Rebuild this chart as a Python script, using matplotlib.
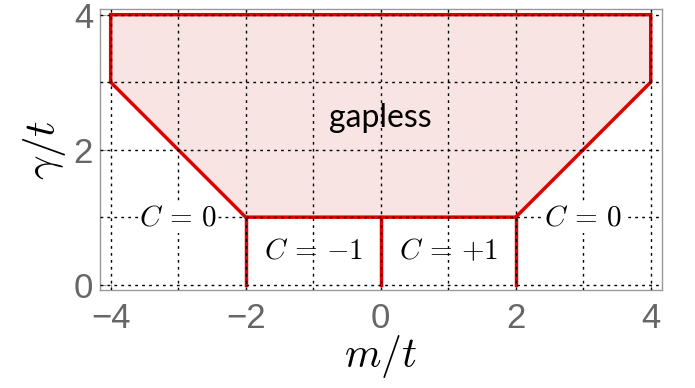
import matplotlib
matplotlib.use("Agg")
import matplotlib.pyplot as plt
from matplotlib.patches import Polygon

plt.rcParams['mathtext.fontset'] = 'cm'

# Data
gapless_m = [-4, 4, 4, 2, -2, -4]
gapless_g = [4, 4, 3, 1, 1, 3]
boundary_m = [-2, 0, 2]
boundary_g_top = 1
xticks = [-4, -2, 0, 2, 4]
yticks = [0, 2, 4]
labels = [(-3, 1, r'$C\,=\,0$'), (3, 1, r'$C\,=\,0$'),
          (-1, 0.5, r'$C\,=\,{-}1$'), (1, 0.5, r'$C\,=\,{+}1$')]

fig = plt.figure(figsize=(6.95, 3.88), dpi=100)
ax = fig.add_axes([100/695, 1-290/388, 562/695, 281/388])
ax.set_xlim(-4.158, 4.167)
ax.set_ylim(-0.079, 4.084)

red = '#dd0000'
poly = Polygon(list(zip(gapless_m, gapless_g)), closed=True, facecolor='#f9e4e4',
               edgecolor=red, lw=2.5, zorder=2)
ax.add_patch(poly)
for m in boundary_m:
    ax.plot([m, m], [0, boundary_g_top], color=red, lw=2.5, zorder=2)

# grid
for v in range(-4, 5):
    ax.axvline(v, color='black', ls=(0, (2, 3)), lw=1, zorder=3)
for v in range(0, 5):
    ax.axhline(v, color='black', ls=(0, (2, 3)), lw=1, zorder=3)

ax.text(0, 2.47, 'gapless', fontsize=23, family='Lato', ha='center', va='center', zorder=5)
for x, y, s in labels:
    ax.text(x, y, s, fontsize=21, ha='center', va='center', zorder=5,
            bbox=dict(facecolor='white', edgecolor='none', pad=1) if y == 1 else None)

ax.set_xticks(xticks)
ax.set_yticks(yticks)
ax.set_xticklabels([('\u2212' if t < 0 else '') + str(abs(t)) for t in xticks],
                   family='Liberation Sans')
ax.set_yticklabels([str(t) for t in yticks], family='Liberation Sans')
ax.tick_params(axis='x', pad=9)
ax.tick_params(axis='y', pad=5)
ax.tick_params(direction='in', length=4, color='#999999', labelcolor='#666666',
               labelsize=25, top=False, right=False)
for s in ax.spines.values():
    s.set_color('#999999')
    s.set_linewidth(1)

ax.set_xlabel(r'$m/t$', fontsize=30, labelpad=-2)
ax.set_ylabel(r'$\gamma/t$', fontsize=31, labelpad=4)

fig.savefig('out.png', dpi=100)
